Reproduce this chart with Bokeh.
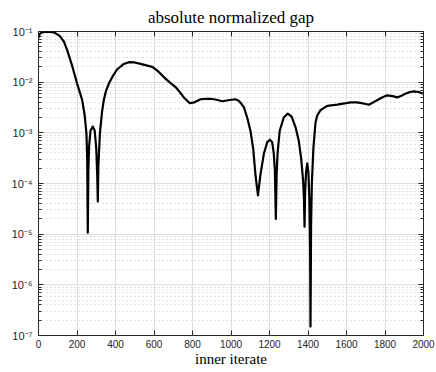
from bokeh.plotting import figure
from bokeh.models import (Range1d, FixedTicker, LinearAxis, LogAxis,
                          CustomJSTickFormatter)
from bokeh.embed import file_html
from bokeh.resources import INLINE

# inner iterate index and absolute normalized gap
iters = [0, 5, 15, 30, 54, 80, 110, 132, 149, 175, 200, 215, 227, 240, 249,
         253, 256, 259, 263, 270, 282, 292, 300, 305, 308, 311, 319, 330, 339,
         350, 365, 385, 409, 440, 469, 500, 530, 560, 591, 620, 651, 680, 712,
         735, 755, 786, 810, 842, 870, 894, 925, 954, 985, 1023, 1040, 1055,
         1067, 1084, 1101, 1115, 1127, 1134, 1140, 1146, 1153, 1171, 1188,
         1202, 1214, 1222, 1228, 1233, 1237, 1242, 1253, 1274, 1295, 1315,
         1335, 1352, 1365, 1374, 1379, 1382, 1385, 1390, 1396, 1402, 1407,
         1411, 1413, 1416, 1420, 1428, 1439, 1448, 1465, 1500, 1552, 1590,
         1621, 1650, 1673, 1700, 1716, 1740, 1759, 1785, 1811, 1840, 1863,
         1885, 1906, 1930, 1950, 1975, 2000]
gap = [0.075, 0.088, 0.095, 0.098, 0.0995, 0.096, 0.082, 0.063, 0.043, 0.021,
       0.0095, 0.0063, 0.0044, 0.0022, 0.00098, 0.0003, 1.07e-5, 0.00018,
       0.00055, 0.0011, 0.00133, 0.0011, 0.0005, 0.00015, 4.4e-5, 0.00022,
       0.00098, 0.0026, 0.0044, 0.0066, 0.0093, 0.013, 0.018, 0.0225, 0.0248,
       0.0245, 0.023, 0.0215, 0.0200, 0.0165, 0.0126, 0.0100, 0.0080, 0.0063,
       0.0050, 0.00385, 0.0040, 0.0046, 0.0047, 0.0047, 0.0045, 0.0042,
       0.0044, 0.0046, 0.0043, 0.0037, 0.0032, 0.0020, 0.0011, 0.0005,
       0.00015, 9e-5, 5.8e-5, 9e-5, 0.00015, 0.00039, 0.00065, 0.00073,
       0.00065, 0.0004, 0.00018, 2.0e-5, 0.00015, 0.0004, 0.0011, 0.0020,
       0.0024, 0.0021, 0.0013, 0.0007, 0.0003, 0.00012, 5e-5, 1.4e-5, 7e-5,
       0.00017, 0.00025, 0.00017, 5e-5, 5e-6, 1.5e-7, 1.5e-5, 0.0001, 0.0005,
       0.0016, 0.0022, 0.0028, 0.0034, 0.0036, 0.0038, 0.0040, 0.0040,
       0.0039, 0.0037, 0.0036, 0.0040, 0.0044, 0.0050, 0.0055, 0.0053,
       0.0050, 0.0054, 0.0059, 0.0064, 0.0066, 0.0064, 0.0059]

x_ticks = [0, 200, 400, 600, 800, 1000, 1200, 1400, 1600, 1800, 2000]
y_decades = [1e-7, 1e-6, 1e-5, 1e-4, 1e-3, 1e-2, 1e-1]
y_minor = [m * d for d in y_decades[:-1] for m in range(2, 10)]

TICK_COLOR = "#262626"
LABEL_FONT = "Liberation Sans"
SERIF = "Liberation Serif"

p = figure(width=436, height=372,
           x_range=Range1d(0, 2000), y_range=Range1d(1e-7, 1e-1),
           y_axis_type="log", output_backend="svg", toolbar_location=None,
           min_border_left=38, min_border_right=13,
           min_border_top=31, min_border_bottom=37,
           background_fill_color="white", border_fill_color="white")

p.title.text = "absolute normalized gap"
p.title.text_font = SERIF
p.title.text_font_size = "17px"
p.title.text_font_style = "normal"
p.title.text_color = "black"
p.title.align = "center"

xt = FixedTicker(ticks=x_ticks)
yt = FixedTicker(ticks=y_decades, minor_ticks=y_minor)

# decade labels written as 10 with a superscript exponent
sup = CustomJSTickFormatter(code="""
const s = {'-':'\u207b','0':'\u2070','1':'\u00b9','2':'\u00b2','3':'\u00b3',
           '4':'\u2074','5':'\u2075','6':'\u2076','7':'\u2077','8':'\u2078','9':'\u2079'};
const e = Math.round(Math.log10(tick));
return '10' + String(e).split('').map(c => s[c]).join('');
""")
blank = CustomJSTickFormatter(code="return '';")

def style_axis(ax, labels=True):
    ax.axis_line_color = None
    ax.major_tick_in = 5
    ax.major_tick_out = 0
    ax.minor_tick_in = 3
    ax.minor_tick_out = 0
    ax.major_tick_line_color = TICK_COLOR
    ax.minor_tick_line_color = TICK_COLOR
    ax.major_label_text_font = LABEL_FONT
    ax.major_label_text_font_size = "10px"
    ax.major_label_text_color = TICK_COLOR
    if not labels:
        ax.major_label_text_font_size = "0px"
        ax.major_label_standoff = 0

xa = p.xaxis[0]
xa.ticker = xt
style_axis(xa)
xa.major_label_standoff = 4
xa.axis_label = "inner iterate"
xa.axis_label_text_font = SERIF
xa.axis_label_text_font_size = "15px"
xa.axis_label_text_font_style = "normal"
xa.axis_label_text_color = "black"
xa.axis_label_standoff = 0

ya = p.yaxis[0]
ya.ticker = yt
ya.formatter = sup
style_axis(ya)
ya.major_label_text_font_size = "11px"
ya.major_label_standoff = 6

top = LinearAxis(ticker=xt, formatter=blank)
style_axis(top, labels=False)
p.add_layout(top, "above")

right = LogAxis(ticker=yt, formatter=blank)
style_axis(right, labels=False)
p.add_layout(right, "right")

p.outline_line_color = TICK_COLOR
p.outline_line_width = 1

p.xgrid.grid_line_color = "#dedede"
p.ygrid.grid_line_color = "#dedede"
p.xgrid.minor_grid_line_color = None
p.ygrid.minor_grid_line_color = "#c4c4c4"
p.ygrid.minor_grid_line_dash = "1 3"

p.line(iters, gap, line_color="black", line_width=2.2, line_join="round")

open("out.html", "w").write(file_html(p, INLINE))
